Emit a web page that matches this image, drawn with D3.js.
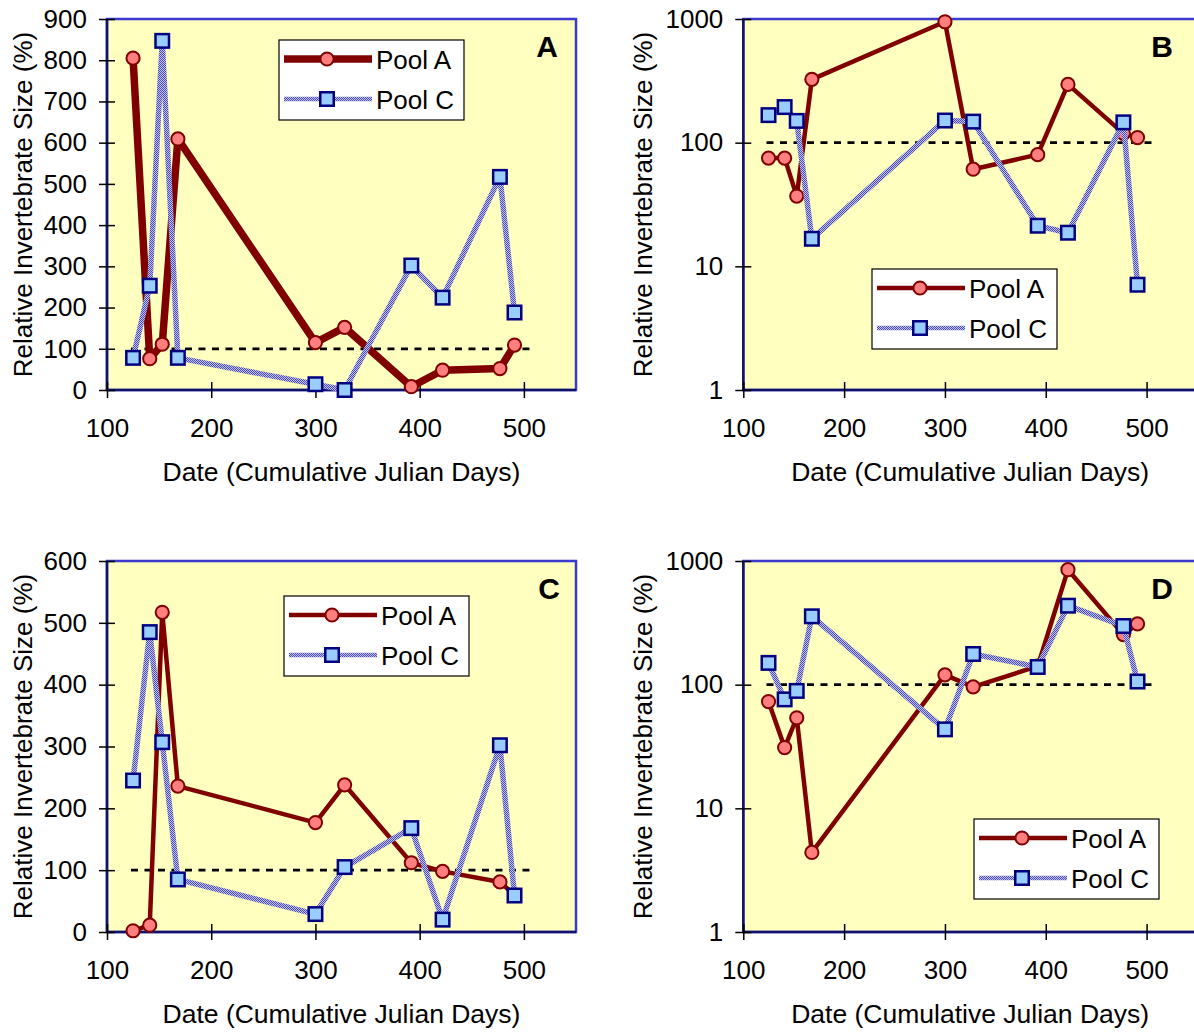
<!DOCTYPE html>
<html lang="en">
<head>
<meta charset="utf-8">
<title>Relative Invertebrate Size</title>
<script src="https://cdn.jsdelivr.net/npm/d3@7/dist/d3.min.js"></script>
<style>
  body { margin: 0; background: #ffffff; }
  svg { display: block; }
</style>
</head>
<body>
<svg id="chart" width="1194" height="1032"></svg>
<script type="text/javascript">

//////////////////////////////////////
// data
var days = [125, 141, 153, 168, 300, 328, 392, 422, 477, 491];

var poolA_A = [805, 76, 111, 609, 115, 152, 8, 48, 52, 109];
var poolC_A = [78, 253, 847, 78, 14, 0, 302, 224, 517, 188];

var poolA_B = [75, 75, 37, 325, 950, 61, 80, 296, 119, 110];
var poolC_B = [167, 194, 150, 16.7, 151, 148, 21.3, 18.7, 146, 7.1];

var poolA_C = [2, 11, 517, 236, 177, 238, 112, 98, 81, 60];
var poolC_C = [245, 485, 307, 85, 29, 105, 168, 20, 302, 59];

var poolA_D = [73, 31, 54, 4.4, 120, 96, 141, 851, 254, 310];
var poolC_D = [150, 76, 89, 357, 43.5, 177, 139, 435, 298, 106];

var xTicks = [100, 200, 300, 400, 500];
var linTicksA = [0, 100, 200, 300, 400, 500, 600, 700, 800, 900];
var linTicksC = [0, 100, 200, 300, 400, 500, 600];
var logTicks = [1, 10, 100, 1000];
var seriesNames = ["Pool A", "Pool C"];
var refValue = 100;
var refSpan = [123, 508];

//////////////////////////////////////
// panel layout
var panels = [
  { id: "A", a: poolA_A, c: poolC_A, log: false, ymax: 900, yticks: linTicksA,
    left: 107, right: 576, top: 19, bottom: 390, titleOff: 75, letterX: 547,
    legend: [279, 40], widthA: 7.5 },
  { id: "B", a: poolA_B, c: poolC_B, log: true, yticks: logTicks,
    left: 743.3, right: 1197, top: 19, bottom: 390, titleOff: 91, letterX: 1162,
    legend: [872, 269], widthA: 4.5 },
  { id: "C", a: poolA_C, c: poolC_C, log: false, ymax: 600, yticks: linTicksC,
    left: 107, right: 576, top: 561, bottom: 932, titleOff: 75, letterX: 549,
    legend: [284, 596], widthA: 4.5 },
  { id: "D", a: poolA_D, c: poolC_D, log: true, yticks: logTicks,
    left: 743.3, right: 1197, top: 561, bottom: 932, titleOff: 91, letterX: 1162,
    legend: [974, 819], widthA: 4.5 }
];

var FONT = "'Liberation Sans', Arial, Helvetica, sans-serif";
var colA = "#800000", fillA = "#ff7f7f";
var colC = "#000080", fillC = "#99ccff";

var svg = d3.select("#chart");

// checkered line texture for Pool C
var pat = svg.append("defs").append("pattern")
    .attr("id", "dither").attr("width", 2).attr("height", 2)
    .attr("patternUnits", "userSpaceOnUse");
pat.append("rect").attr("width", 2).attr("height", 2).attr("fill", "#c2c2f0");
pat.append("rect").attr("width", 1).attr("height", 1).attr("fill", "#4a4ab8");
pat.append("rect").attr("x", 1).attr("y", 1).attr("width", 1).attr("height", 1).attr("fill", "#4a4ab8");

function drawMarkersA(g, pts, r) {
  g.selectAll("circle.mA").data(pts).enter().append("circle")
    .attr("class", "mA")
    .attr("cx", function(d) { return d[0]; })
    .attr("cy", function(d) { return d[1]; })
    .attr("r", r)
    .attr("fill", fillA).attr("stroke", colA).attr("stroke-width", 2);
}
function drawMarkersC(g, pts, s) {
  g.selectAll("rect.mC").data(pts).enter().append("rect")
    .attr("class", "mC")
    .attr("x", function(d) { return d[0] - s / 2; })
    .attr("y", function(d) { return d[1] - s / 2; })
    .attr("width", s).attr("height", s)
    .attr("fill", fillC).attr("stroke", colC).attr("stroke-width", 2.5);
}

//////////////////////////////////////
panels.forEach(function(p) {
  var g = svg.append("g").attr("class", "panel");

  var x = d3.scaleLinear().domain([100, 550]).range([p.left, p.right]);
  var y = p.log
    ? d3.scaleLog().domain([1, 1000]).range([p.bottom, p.top])
    : d3.scaleLinear().domain([0, p.ymax]).range([p.bottom, p.top]);

  // plot background and frame
  g.append("rect")
    .attr("x", p.left).attr("y", p.top)
    .attr("width", p.right - p.left).attr("height", p.bottom - p.top)
    .attr("fill", "#ffffc0").attr("stroke", "#3a3ad2").attr("stroke-width", 2.5);
  g.append("line").attr("x1", p.left).attr("x2", p.left).attr("y1", p.top).attr("y2", p.bottom)
    .attr("stroke", "#12126a").attr("stroke-width", 2.5);
  g.append("line").attr("x1", p.left).attr("x2", p.right).attr("y1", p.bottom).attr("y2", p.bottom)
    .attr("stroke", "#12126a").attr("stroke-width", 2.5);

  // axes, ticks crossing the axis line
  var xAxis = d3.axisBottom(x).tickValues(xTicks).tickSize(16).tickPadding(20.5)
    .tickFormat(d3.format("d"));
  var gx = g.append("g").attr("transform", "translate(0," + (p.bottom - 8) + ")").call(xAxis);

  var yAxis = d3.axisLeft(y).tickValues(p.yticks).tickSize(16).tickPadding(12)
    .tickFormat(d3.format("d"));
  var gy = g.append("g").attr("transform", "translate(" + (p.left + 8) + ",0)").call(yAxis);

  [gx, gy].forEach(function(ax) {
    ax.select(".domain").remove();
    ax.selectAll(".tick line").attr("stroke", "#000").attr("stroke-width", 1.5);
    ax.selectAll("text").attr("font-family", FONT).attr("font-size", 26).attr("fill", "#000");
  });

  // axis titles
  g.append("text")
    .attr("x", (p.left + p.right) / 2).attr("y", p.bottom + 91)
    .attr("text-anchor", "middle")
    .attr("font-family", FONT).attr("font-size", 26.5)
    .text("Date (Cumulative Julian Days)");
  g.append("text")
    .attr("transform", "translate(" + (p.left - p.titleOff) + "," + ((p.top + p.bottom) / 2) + ") rotate(-90)")
    .attr("text-anchor", "middle")
    .attr("font-family", FONT).attr("font-size", 26)
    .text("Relative Invertebrate Size (%)");

  // reference line at 100 %
  g.append("line")
    .attr("x1", x(refSpan[0])).attr("x2", x(refSpan[1]))
    .attr("y1", y(refValue)).attr("y2", y(refValue))
    .attr("stroke", "#000").attr("stroke-width", 2.8).attr("stroke-dasharray", "7,6.5");

  // series
  var ptsA = days.map(function(d, i) { return [x(d), y(p.a[i])]; });
  var ptsC = days.map(function(d, i) { return [x(d), y(p.c[i])]; });
  var line = d3.line();

  g.append("path").attr("d", line(ptsA)).attr("fill", "none")
    .attr("stroke", colA).attr("stroke-width", p.widthA).attr("stroke-linejoin", "round");
  drawMarkersA(g, ptsA, 6.6);

  g.append("path").attr("d", line(ptsC)).attr("fill", "none")
    .attr("stroke", "url(#dither)").attr("stroke-width", 5.5).attr("stroke-linejoin", "round");
  drawMarkersC(g, ptsC, 13.5);

  // panel letter
  g.append("text")
    .attr("x", p.letterX).attr("y", p.top + 38)
    .attr("text-anchor", "middle")
    .attr("font-family", FONT).attr("font-size", 30).attr("font-weight", "bold")
    .text(p.id);

  // legend
  var lx = p.legend[0], ly = p.legend[1];
  var lg = g.append("g").attr("class", "legend");
  lg.append("rect").attr("x", lx).attr("y", ly).attr("width", 185).attr("height", 80)
    .attr("fill", "#fff").attr("stroke", "#000").attr("stroke-width", 1.2);

  var rowA = ly + 19, rowC = ly + 59;
  lg.append("line").attr("x1", lx + 5).attr("x2", lx + 93).attr("y1", rowA).attr("y2", rowA)
    .attr("stroke", colA).attr("stroke-width", p.widthA);
  drawMarkersA(lg, [[lx + 48, rowA]], 6.6);
  lg.append("line").attr("x1", lx + 5).attr("x2", lx + 93).attr("y1", rowC).attr("y2", rowC)
    .attr("stroke", "url(#dither)").attr("stroke-width", 4.5);
  drawMarkersC(lg, [[lx + 48, rowC]], 13.5);

  lg.selectAll("text.lt").data(seriesNames).enter().append("text")
    .attr("class", "lt")
    .attr("x", lx + 97)
    .attr("y", function(d, i) { return (i === 0 ? rowA : rowC) + 9.5; })
    .attr("font-family", FONT).attr("font-size", 26)
    .text(function(d) { return d; });
});

</script>
</body>
</html>
